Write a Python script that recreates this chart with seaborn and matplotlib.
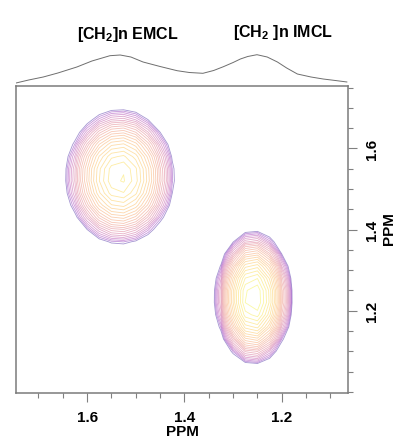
import numpy as np
import seaborn as sns
import matplotlib.pyplot as plt
from matplotlib.ticker import FixedLocator, MultipleLocator

# ----------------------
# 2D spectrum: two cross peaks (ppm)
# ----------------------
peak_names = ["[CH$_2$]n EMCL", "[CH$_2$ ]n IMCL"]
peak_x = [1.532, 1.258]      # direct dimension centre
peak_y = [1.530, 1.232]      # indirect dimension centre
peak_sx = [0.055, 0.036]     # widths
peak_sy = [0.082, 0.076]
peak_amp = [0.75, 1.0]

# projection drawn above the map (ppm, height)
trace_ppm = [1.746, 1.720, 1.690, 1.660, 1.621, 1.590, 1.553, 1.532, 1.510,
             1.485, 1.450, 1.415, 1.390, 1.362, 1.340, 1.320, 1.300, 1.285,
             1.270, 1.251, 1.230, 1.209, 1.190, 1.168, 1.140, 1.115, 1.090, 1.066]
trace_int = [0.0, 3.0, 6.0, 10.0, 16.0, 22.0, 27.3, 28.0, 26.0,
             21.0, 16.5, 12.3, 10.5, 9.7, 12.5, 16.3, 20.5, 24.0,
             26.5, 28.3, 26.0, 21.0, 15.0, 9.0, 6.0, 4.0, 2.5, 1.0]

x_ticks = [1.6, 1.4, 1.2]
y_ticks = [1.2, 1.4, 1.6]

sns.set_theme(style="ticks")
plt.rcParams["font.family"] = ["Liberation Sans", "DejaVu Sans"]
plt.rcParams["mathtext.fontset"] = "custom"
plt.rcParams["mathtext.rm"] = "Liberation Sans:bold"
plt.rcParams["mathtext.it"] = "Liberation Sans:bold"
plt.rcParams["mathtext.bf"] = "Liberation Sans:bold"
plt.rcParams["text.color"] = "black"
plt.rcParams["axes.labelcolor"] = "black"
plt.rcParams["xtick.labelcolor"] = "black"
plt.rcParams["ytick.labelcolor"] = "black"

# coarse acquisition grid -> polygonal contours
gx = np.arange(1.05, 1.80, 0.025)
gy = np.arange(0.95, 1.80, 0.03)
X, Y = np.meshgrid(gx, gy)
Z = np.zeros_like(X)
for cx, cy, sx, sy, a in zip(peak_x, peak_y, peak_sx, peak_sy, peak_amp):
    Z += a * np.exp(-((X - cx) ** 2 / (2 * sx ** 2) + (Y - cy) ** 2 / (2 * sy ** 2)))

levels = np.geomspace(0.1, 0.97, 25)
cmap = sns.color_palette("plasma", as_cmap=True)
colors = [cmap(0.05 + 0.95 * (k / (len(levels) - 1)) ** 0.55) for k in range(len(levels))]

fig = plt.figure(figsize=(3.96, 4.39), dpi=100)
ax = fig.add_axes([16 / 396, 45 / 439, 332 / 396, 307 / 439])
ax.contour(X, Y, Z, levels=levels, colors=colors, linewidths=0.6, alpha=0.42)

ax.set_xlim(1.746, 1.064)
ax.set_ylim(0.997, 1.754)
ax.xaxis.set_major_locator(FixedLocator(x_ticks))
ax.xaxis.set_minor_locator(MultipleLocator(0.05))
ax.yaxis.set_major_locator(FixedLocator(y_ticks))
ax.yaxis.set_minor_locator(MultipleLocator(0.05))
ax.yaxis.tick_right()
ax.tick_params(which="major", length=6.5, width=0.8, color="#808080", pad=6,
               labelsize=11)
ax.tick_params(which="minor", length=3.5, width=0.8, color="#808080")
ax.tick_params(axis="y", labelrotation=90)
for lab in ax.get_yticklabels():
    lab.set_va("center")
for lab in ax.get_xticklabels() + ax.get_yticklabels():
    lab.set_fontweight("bold")
for s in ax.spines.values():
    s.set_color("#7a7a7a")
    s.set_linewidth(1.1)
ax.set_xlabel("PPM", fontsize=11, fontweight="bold", labelpad=0)
ax.grid(False)
fig.text(389 / 396, 1 - 229 / 439, "PPM", rotation=90, ha="center", va="center",
         fontsize=11, fontweight="bold")

# projection on top
ax_top = fig.add_axes([16 / 396, 352 / 439, 332 / 396, 47 / 439], sharex=ax)
sns.lineplot(x=trace_ppm, y=trace_int, ax=ax_top, color="#6e6e6e", linewidth=0.7)
ax_top.set_ylim(-3, 44)
ax_top.set_xlim(1.746, 1.064)
ax_top.axis("off")

fig.text(128 / 396, 1 - 35 / 439, peak_names[0], ha="center", va="center",
         fontsize=11.5, fontweight="bold")
fig.text(283 / 396, 1 - 33 / 439, peak_names[1], ha="center", va="center",
         fontsize=11.5, fontweight="bold")

fig.savefig("out.png", dpi=100)
